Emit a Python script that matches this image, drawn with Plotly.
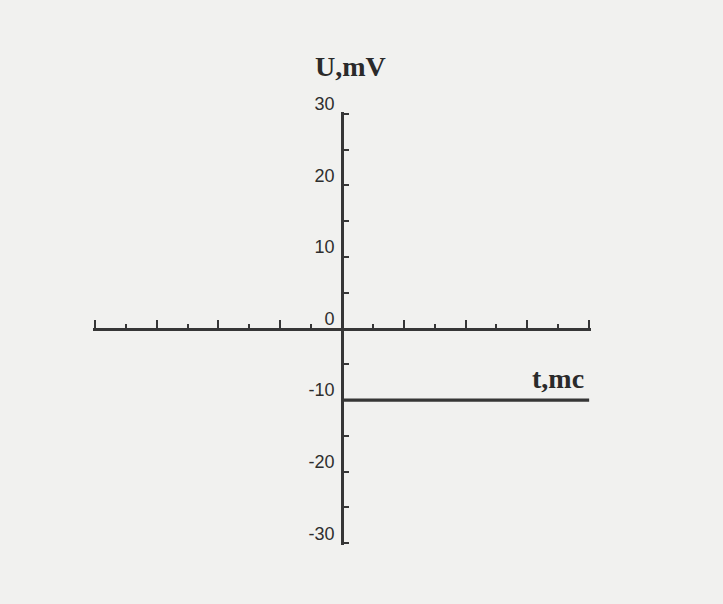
import plotly.graph_objects as go

# Signal: constant level after t = 0
t_values = [0, 8]
u_values = [-10, -10]

# Axis settings (a hair beyond the end ticks so the end ticks are drawn)
x_range = [-8.06, 8.06]
y_range = [-30.25, 30.25]
y_tick_vals = [30, 20, 10, 0, -10, -20, -30]
y_tick_text = ["30", "20", "10", "0", "-10", "-20", "-30"]

ink = "#363636"
paper = "#f1f1ef"

fig = go.Figure()
fig.add_trace(go.Scatter(
    x=t_values, y=u_values, mode="lines",
    line=dict(color=ink, width=3.2),
    showlegend=False, hoverinfo="skip",
))

fig.update_layout(
    width=723, height=604,
    margin=dict(l=93, r=132, t=112, b=59),
    paper_bgcolor=paper, plot_bgcolor=paper,
    showlegend=False,
    xaxis=dict(
        range=x_range, domain=[0, 1],
        anchor="free", position=0.5,
        showline=True, linecolor=ink, linewidth=2.6,
        showgrid=False, zeroline=False,
        ticks="inside", ticklen=8, tickwidth=2, tickcolor=ink,
        dtick=2, tick0=0, showticklabels=False,
        minor=dict(dtick=1, tick0=0, ticks="inside", ticklen=4,
                   tickwidth=2, tickcolor=ink, showgrid=False),
    ),
    yaxis=dict(
        range=y_range, domain=[0, 1],
        anchor="free", position=0.5,
        showline=True, linecolor=ink, linewidth=2.6,
        showgrid=False, zeroline=False,
        ticks="inside", ticklen=5, tickwidth=2, tickcolor=ink,
        tickmode="array", tickvals=y_tick_vals, ticktext=y_tick_text,
        ticklabelshift=-10, ticklabelstandoff=3,
        tickfont=dict(family="Liberation Sans, Arial", size=18,
                      color="#2e2e2e"),
        minor=dict(dtick=5, tick0=0, ticks="inside", ticklen=5,
                   tickwidth=2, tickcolor=ink, showgrid=False),
    ),
)

title_font = dict(family="Liberation Serif, Times New Roman, serif",
                  size=28, color="#2a2a2a")

fig.add_annotation(
    text="<b>U,mV</b>", x=0.5, xref="x domain", xshift=8,
    y=1.0, yref="y domain", yshift=46, yanchor="middle",
    showarrow=False, font=title_font,
)
fig.add_annotation(
    text="<b>t,mc</b>", x=7.0, xref="x", y=-7.0, yref="y",
    yanchor="middle", showarrow=False, font=title_font,
)

fig.write_html("out.html")
